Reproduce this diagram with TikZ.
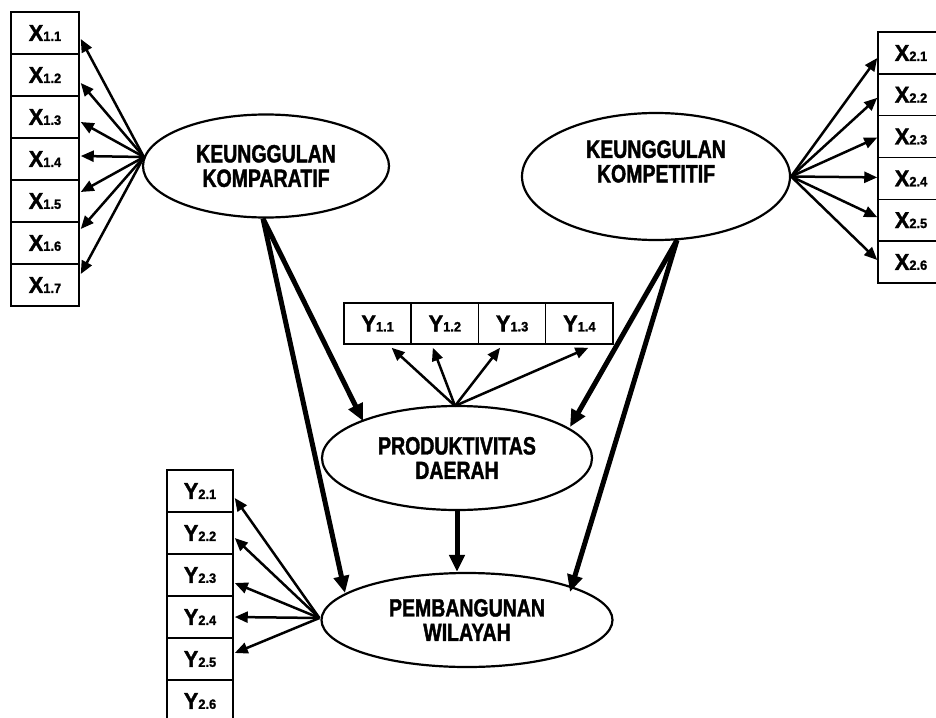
\documentclass[tikz,border=0pt]{standalone}
\usepackage{fontspec}
\setmainfont{Liberation Sans}
\newfontfamily\ellfont{Liberation Sans Bold}[FakeStretch=0.78,FakeBold=1.5]
\newfontfamily\boxfont{Liberation Sans Bold}[FakeStretch=0.95,FakeBold=1.5]
\usetikzlibrary{shapes.geometric,arrows.meta,calc}
\newcommand\vlab[2]{{\fontsize{23}{23}\selectfont #1}{\fontsize{13.5}{13.5}\selectfont #2}}
\begin{document}
\begin{tikzpicture}[x=1pt,y=-1pt,
  obsbox/.style={draw, line width=1.5pt, minimum width=68pt, minimum height=42pt, inner sep=0pt, font=\boxfont},
  lat/.style={draw, ellipse, line width=2.2pt, inner sep=0pt, align=center, font=\ellfont\fontsize{25}{24.5}\selectfont},
  smallarrow/.style={line width=2.5pt, -{Triangle[length=13pt,width=11pt]}},
  bigarrow/.style={line width=5pt, -{Triangle[length=17pt,width=15pt]}}]
\useasboundingbox (0,0) rectangle (936,717);
\clip (0,0) rectangle (936,717);
% latent variables
\node[lat, minimum width=246pt, minimum height=103pt] (kc) at (266,166) {KEUNGGULAN\\KOMPARATIF};
\node[lat, minimum width=268pt, minimum height=127pt,
  label={[name=kkt, yshift=15pt, align=center, font=\ellfont\fontsize{25}{24.5}\selectfont]center:KEUNGGULAN\\KOMPETITIF}] (kk) at (656,176.5) {};
\node[lat, minimum width=270pt, minimum height=104pt] (pd) at (457,458) {PRODUKTIVITAS\\DAERAH};
\node[lat, minimum width=291pt, minimum height=94pt] (pw) at (467,620) {PEMBANGUNAN\\WILAYAH};
% X1 boxes
\foreach \i in {1,...,7} {
  \node[obsbox] (x1\i) at (45,{33+42*(\i-1)}) {\vlab{X}{1.\i}};
}
% X2 boxes
\foreach \i in {1,...,6} {
  \node[obsbox, minimum width=66pt, minimum height=41.8pt] (x2\i) at (911,{53+41.8*(\i-1)}) {\vlab{X}{2.\i}};
}
% Y1 boxes
\foreach \i in {1,...,4} {
  \node[obsbox, minimum width=67.25pt, minimum height=41pt] (y1\i) at ({377.6+67.25*(\i-1)},323.5) {\vlab{Y}{1.\i}};
}
% Y2 boxes
\foreach \i in {1,...,6} {
  \node[obsbox, minimum width=66pt] (y2\i) at (200,{491+42*(\i-1)}) {\vlab{Y}{2.\i}};
}
% X1 arrows
\foreach \i/\d in {1/6,2/8,3/5,4/-3,5/-9,6/-14,7/-11} {
  \draw[smallarrow] ($(kc.west)+(2,-9)$) -- ($(x1\i.east)+(1,\d)$);
}
% X2 arrows
\foreach \i/\d in {1/5,2/3,3/1,4/-1,5/-3,6/-2} {
  \draw[smallarrow] (kk.east) -- ($(x2\i.west)+(0,\d)$);
}
% Y1 arrows
\foreach \i/\d in {1/14,2/-12,3/-12,4/9} {
  \draw[smallarrow] ($(pd.north)+(-2,1)$) -- ($(y1\i.south)+(\d,3)$);
}
% Y2 arrows
\foreach \i/\d in {1/7,2/5,3/8,4/0,5/-6} {
  \draw[smallarrow] ($(pw.west)+(-1,-2)$) -- ($(y2\i.east)+(1,\d)$);
}
% structural paths
\draw[bigarrow] ($(kc.south)+(-3,0)$) -- ($(pd.center)+(-94,-37)$);
\draw[bigarrow] ($(kc.south)+(-3,0)$) -- ($(pw.center)+(-122,-27)$);
\draw[bigarrow] ($(kk.south)+(21,-1)$) -- ($(pd.center)+(113,-31)$);
\draw[bigarrow] ($(kk.south)+(21,-1)$) -- ($(pw.center)+(103,-28)$);
\draw[bigarrow] (pd.south) -- (pd.south |- pw.north);
\end{tikzpicture}
\end{document}
